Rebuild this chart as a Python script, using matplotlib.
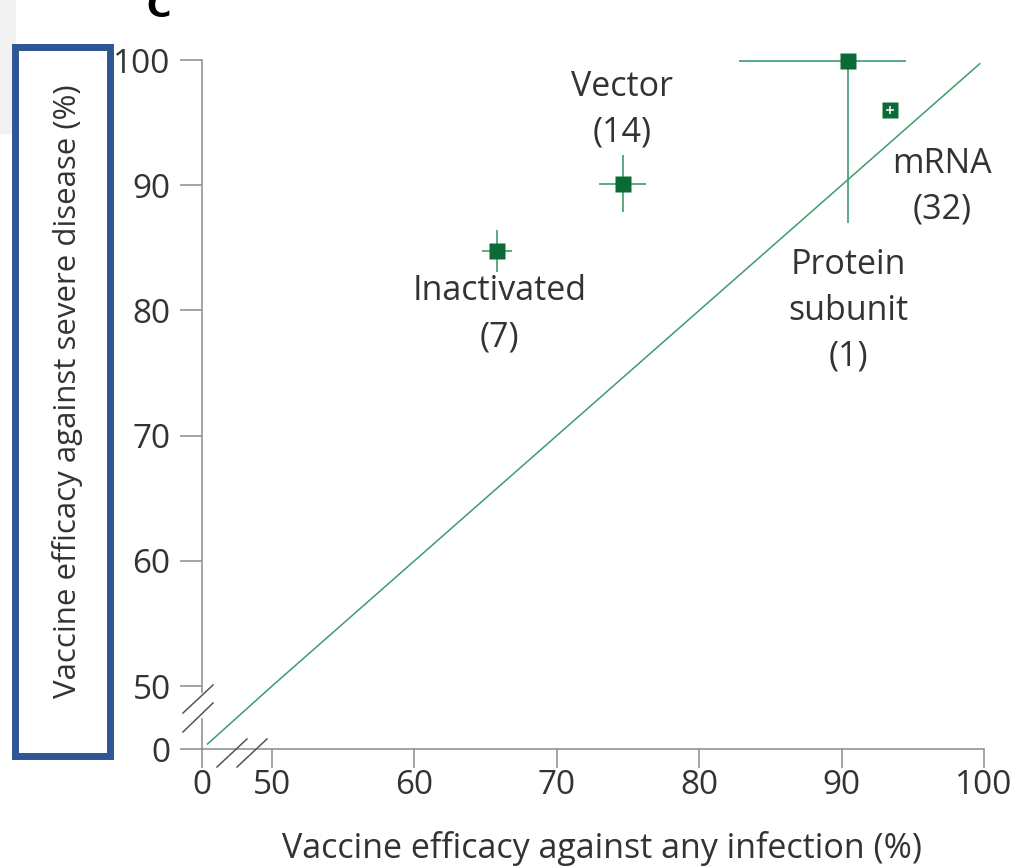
import numpy as np
import matplotlib.pyplot as plt
from matplotlib.patches import Rectangle

plt.rcParams['font.family'] = ['Open Sans', 'DejaVu Sans']

# pooled efficacy by vaccine platform (number of studies in brackets)
platforms = ['Inactivated', 'Vector', 'Protein subunit', 'mRNA']
labels = ['Inactivated\n(7)', 'Vector\n(14)', 'Protein\nsubunit\n(1)', 'mRNA\n(32)']
infection = [65.8, 74.65, 90.45, 93.4]
infection_lo = [64.75, 72.95, 82.8, 93.1]
infection_hi = [66.85, 76.25, 94.5, 93.7]
severe = [84.75, 90.1, 99.9, 96.0]
severe_lo = [83.05, 87.85, 87.0, 95.65]
severe_hi = [86.4, 92.4, 99.9, 96.35]

ticks = [0, 50, 60, 70, 80, 90, 100]
diag = [4, 50, 99.7]

green_line = '#3c9d6d'
green_mark = '#0a6b36'
grey = '#8a8a8a'
text_col = '#333333'


# broken axis: squeeze 0-50 into a short stretch
def make_scale(gap):
    def fwd(v):
        v = np.asarray(v, dtype=float)
        return np.where(v < 50, 50 - gap + v * gap / 50, v)

    def inv(u):
        u = np.asarray(u, dtype=float)
        return np.where(u < 50, (u - (50 - gap)) * 50 / gap, u)
    return fwd, inv


fig = plt.figure(figsize=(10.14, 8.66), dpi=100)
ax = fig.add_axes([0.1992, 0.1351, 0.7712, 0.7956])

ax.set_xscale('function', functions=make_scale(4.92))
ax.set_yscale('function', functions=make_scale(5.03))
ax.set_xlim(0, 100)
ax.set_ylim(0, 100)

# line of equal efficacy
ax.plot(diag, diag, color=green_line, lw=1.1, zorder=2)

# confidence intervals, white for mRNA (drawn over the marker)
for i in range(len(platforms)):
    white = platforms[i] == 'mRNA'
    ax.errorbar(infection[i], severe[i],
                xerr=[[infection[i] - infection_lo[i]], [infection_hi[i] - infection[i]]],
                yerr=[[severe[i] - severe_lo[i]], [severe_hi[i] - severe[i]]],
                fmt='none', ecolor='white' if white else green_line,
                elinewidth=1.1 if white else 1.2, capsize=0,
                zorder=5 if white else 2, clip_on=False)

ax.plot(infection, severe, 's', ms=11, color=green_mark, mec='none', zorder=4, clip_on=False)

# platform labels
label_xy = [(66.0, 79.7), (74.6, 96.0), (90.45, 79.95), (97.05, 89.85)]
for lab, (lx, ly) in zip(labels, label_xy):
    ax.text(lx, ly, lab, ha='center', va='center', fontsize=24.5, color=text_col,
            linespacing=1.45)

# axes styling
for side in ['top', 'right']:
    ax.spines[side].set_visible(False)
for side in ['left', 'bottom']:
    ax.spines[side].set_color(grey)
    ax.spines[side].set_linewidth(1.1)

ax.set_xticks(ticks)
ax.set_yticks(ticks)
ax.set_xticklabels([str(t) for t in ticks])
ax.set_yticklabels([str(t) for t in ticks])
ax.tick_params(axis='x', direction='out', length=13.5, width=1.1, color=grey,
               labelsize=24, labelcolor=text_col, pad=1)
ax.tick_params(axis='y', direction='out', length=15.5, width=1.1, color=grey,
               labelsize=24, labelcolor=text_col, pad=7)
ax.minorticks_off()

# break marks
ax.plot([0, 0], [0.0479, 0.0784], transform=ax.transAxes, color='white', lw=3,
        clip_on=False, zorder=6)
for (x0, y0, x1, y1) in [(-0.0243, 0.0522, 0.0141, 0.0929),
                         (-0.0243, 0.0247, 0.0141, 0.0668),
                         (0.0192, -0.0261, 0.0575, 0.0145),
                         (0.0448, -0.0261, 0.0831, 0.0145)]:
    ax.plot([x0, x1], [y0, y1], transform=ax.transAxes, color='#555555', lw=1.1,
            clip_on=False, zorder=6)

# axis titles
fig.text(0.594, 0.0095, 'Vaccine efficacy against any infection (%)', ha='center',
         va='baseline', fontsize=24.5, color=text_col)
fig.text(0.067, 0.5485, 'Vaccine efficacy against severe disease (%)', ha='center',
         va='center', rotation=90, fontsize=22.5, color=text_col)

# highlight box round the y title, grey strip and clipped panel letter
fig.patches.append(Rectangle((0, 1 - 133 / 866), 15 / 1014, 133 / 866,
                             transform=fig.transFigure, color='#f2f2f2', zorder=0))
fig.patches.append(Rectangle((14.5 / 1014, 1 - 756 / 866), 95 / 1014, 709 / 866,
                             transform=fig.transFigure, fill=False, ec='#2e5596',
                             lw=5, zorder=10))
fig.text(146 / 1014, 1 - 17 / 866, 'C', fontsize=24, fontweight='bold', color='black',
         va='baseline', family='DejaVu Sans')

plt.savefig('out.png', dpi=100)
